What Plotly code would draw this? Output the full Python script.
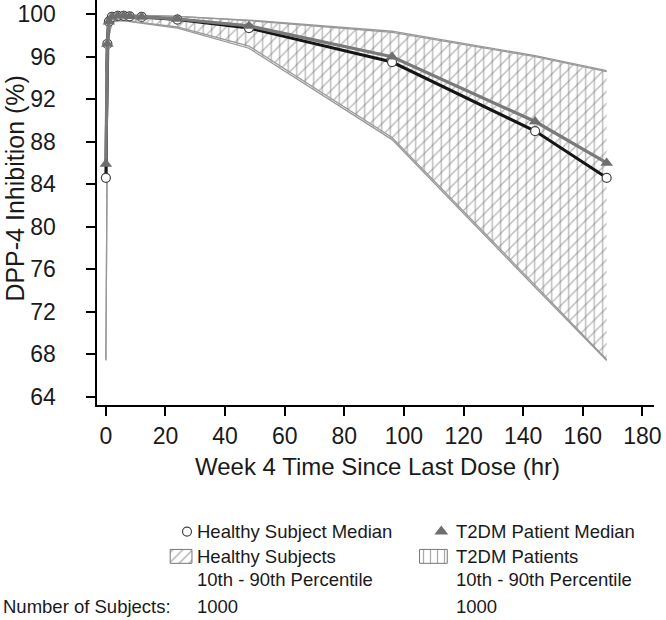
import plotly.graph_objects as go

# ---------------- data ----------------
time_hr = [0, 0.5, 1, 2, 4, 6, 8, 12, 24, 48, 96, 144, 168]
healthy_median = [84.6, 97.2, 99.3, 99.75, 99.85, 99.85, 99.8, 99.75, 99.5, 98.7, 95.5, 89.0, 84.6]
t2dm_median = [85.9, 97.2, 99.3, 99.75, 99.85, 99.85, 99.8, 99.75, 99.55, 98.9, 96.0, 89.9, 86.0]
healthy_p90 = [94.6, 99.3, 99.8, 99.95, 99.95, 99.95, 99.95, 99.9, 99.8, 99.4, 98.3, 96.0, 94.6]
healthy_p10 = [67.5, 90.0, 98.0, 99.2, 99.4, 99.4, 99.35, 99.2, 98.8, 97.0, 88.4, 74.5, 67.5]
t2dm_p90 = [94.7, 99.3, 99.8, 99.95, 99.95, 99.95, 99.95, 99.9, 99.8, 99.45, 98.4, 96.1, 94.7]
t2dm_p10 = [67.4, 89.5, 97.9, 99.2, 99.4, 99.4, 99.3, 99.15, 98.7, 96.8, 88.2, 74.3, 67.4]

x_ticks = [0, 20, 40, 60, 80, 100, 120, 140, 160, 180]
y_ticks = [64, 68, 72, 76, 80, 84, 88, 92, 96, 100]

x_title = "Week 4 Time Since Last Dose (hr)"
y_title = "DPP-4 Inhibition (%)"
legend_median = ["Healthy Subject Median", "T2DM Patient Median"]
legend_band_1 = ["Healthy Subjects", "T2DM Patients"]
legend_band_2 = ["10th - 90th Percentile", "10th - 90th Percentile"]
n_label = "Number of Subjects:"
n_subjects = ["1000", "1000"]

# ---------------- style ----------------
W, H = 666, 620
FONT = "Liberation Sans, Arial, Helvetica, sans-serif"
TXT = "#1a1a1a"
BAND_LINE = "#999999"
HATCH = "#777777"
DARK = "#151515"
GREY = "#7a7a7a"

# plot area in pixels
PL, PR, PT, PB = 98, 661, 0, 408
x_range = [-2.99, 183.9]
y_range = [63.18, 101.34]

fig = go.Figure()

def band(upper, lower, shape, name):
    fig.add_trace(go.Scatter(x=time_hr, y=upper, mode="lines",
                             line=dict(color=BAND_LINE, width=1.3),
                             hoverinfo="skip", showlegend=False))
    fig.add_trace(go.Scatter(x=time_hr, y=lower, mode="lines",
                             line=dict(color=BAND_LINE, width=1.3),
                             fill="tonexty", fillcolor="rgba(0,0,0,0)",
                             fillpattern=dict(shape=shape, fgcolor=HATCH,
                                              bgcolor="rgba(0,0,0,0)",
                                              size=8.5, solidity=0.17),
                             name=name, showlegend=False))

band(t2dm_p90, t2dm_p10, "|", "T2DM band")
band(healthy_p90, healthy_p10, "/", "Healthy band")

fig.add_trace(go.Scatter(x=time_hr, y=healthy_median, mode="lines+markers",
                         line=dict(color=DARK, width=3),
                         marker=dict(symbol="circle", size=9, color="white",
                                     line=dict(color="#444444", width=1.2)),
                         showlegend=False, name="Healthy median"))
fig.add_trace(go.Scatter(x=time_hr, y=t2dm_median, mode="lines+markers",
                         line=dict(color=GREY, width=3.2),
                         marker=dict(symbol="triangle-up", size=11, color="#6e6e6e",
                                     line=dict(width=0)),
                         showlegend=False, name="T2DM median"))

# ---------------- legend (drawn on a hidden pixel-space axis) ----------------
LEG_FONT = dict(family=FONT, size=18.5, color=TXT)
col1_text, col2_text = 197, 459
row1, row2, row3, row4 = 535, 560, 583, 610

fig.add_trace(go.Scatter(x=[189], y=[row1], mode="markers", xaxis="x2", yaxis="y2",
                         marker=dict(symbol="circle", size=9, color="white",
                                     line=dict(color="#444444", width=1.2)),
                         showlegend=False, hoverinfo="skip"))
fig.add_trace(go.Scatter(x=[446], y=[row1], mode="markers", xaxis="x2", yaxis="y2",
                         marker=dict(symbol="triangle-up", size=12, color="#6e6e6e"),
                         showlegend=False, hoverinfo="skip"))

def key_box(x0, x1, y0, y1, shape):
    fig.add_trace(go.Scatter(x=[x0, x1, x1, x0, x0], y=[y0, y0, y1, y1, y0],
                             mode="lines", xaxis="x2", yaxis="y2",
                             line=dict(color="#777777", width=1),
                             fill="toself", fillcolor="rgba(0,0,0,0)",
                             fillpattern=dict(shape=shape, fgcolor="#555555",
                                              bgcolor="rgba(0,0,0,0)",
                                              size=7, solidity=0.18),
                             showlegend=False, hoverinfo="skip"))

key_box(172, 194, row2 - 7, row2 + 7, "/")
key_box(424, 452, row2 - 7, row2 + 7, "|")

ann = [
    dict(x=col1_text, y=row1, text=legend_median[0]),
    dict(x=col2_text, y=row1, text=legend_median[1]),
    dict(x=col1_text, y=row2, text=legend_band_1[0]),
    dict(x=col1_text, y=row3, text=legend_band_2[0]),
    dict(x=col2_text, y=row2, text=legend_band_1[1]),
    dict(x=col2_text, y=row3, text=legend_band_2[1]),
    dict(x=1, y=row4, text=n_label),
    dict(x=col1_text, y=row4, text=n_subjects[0]),
    dict(x=col2_text, y=row4, text=n_subjects[1]),
]
annotations = [dict(a, xref="x2", yref="y2", xanchor="left", yanchor="middle",
                    showarrow=False, font=LEG_FONT) for a in ann]

annotations.append(dict(x=15, y=190, xref="x2", yref="y2", text=y_title, textangle=-90,
                        showarrow=False, xanchor="center", yanchor="middle",
                        font=dict(family=FONT, size=25, color=TXT)))
annotations.append(dict(x=382, y=470, xref="x2", yref="y2", text=x_title,
                        showarrow=False, xanchor="center", yanchor="middle",
                        font=dict(family=FONT, size=24, color=TXT)))

axis_common = dict(showline=True, linecolor="black", linewidth=2,
                   ticks="outside", ticklen=9, tickwidth=2, tickcolor="black",
                   showgrid=False, zeroline=False, ticklabeloverflow="allow",
                   tickfont=dict(family=FONT, size=23, color=TXT))

PAD = "\u00a0" * 4  # gap between y tick labels and tick marks
fig.update_layout(
    width=W, height=H,
    margin=dict(l=0, r=0, t=0, b=0),
    paper_bgcolor="white", plot_bgcolor="rgba(0,0,0,0)",
    xaxis=dict(domain=[PL / W, PR / W], range=x_range, tickvals=x_ticks,
               anchor="y", ticklabelstandoff=0, **axis_common),
    yaxis=dict(domain=[1 - PB / H, 1 - PT / H], range=y_range, tickvals=y_ticks,
               ticktext=[str(v) + PAD for v in y_ticks],
               anchor="x", **axis_common),
    xaxis2=dict(domain=[0, 1], range=[0, W], visible=False, anchor="y2",
                fixedrange=True),
    yaxis2=dict(domain=[0, 1], range=[H, 0], visible=False, anchor="x2",
                fixedrange=True),
    annotations=annotations,
    showlegend=False,
)

fig.write_html("out.html", config={"displayModeBar": False},
               post_script="document.body.style.margin='0px';")
